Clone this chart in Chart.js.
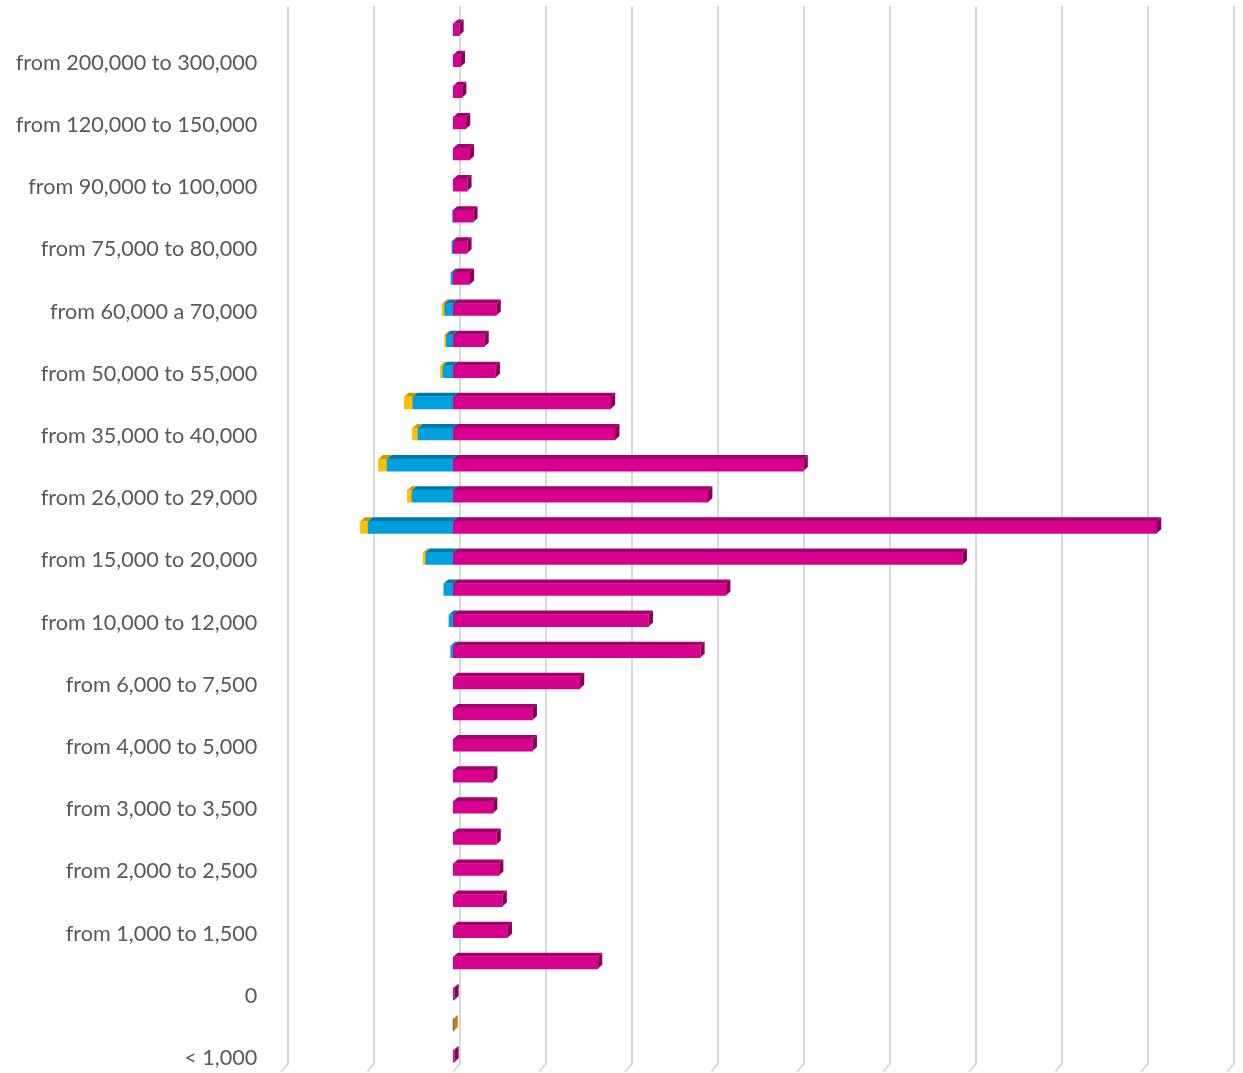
<!DOCTYPE html>
<html>
<head>
<meta charset="utf-8">
<script src="https://cdn.jsdelivr.net/npm/chart.js@4/dist/chart.umd.min.js"></script>
<style>
  html, body { margin: 0; padding: 0; background: #ffffff; }
  #wrap { width: 1243px; height: 1073px; }
</style>
</head>
<body>
<div id="wrap"><canvas id="chart" width="1243" height="1073"></canvas></div>
<script>
// Income classes, from the lowest to the highest
const categories = [
  "< 1,000", "from -1,000 to 0", "0", "from 0 to 1,000",
  "from 1,000 to 1,500", "from 1,500 to 2,000", "from 2,000 to 2,500", "from 2,500 to 3,000",
  "from 3,000 to 3,500", "from 3,500 to 4,000", "from 4,000 to 5,000", "from 5,000 to 6,000",
  "from 6,000 to 7,500", "from 7,500 to 10,000", "from 10,000 to 12,000", "from 12,000 to 15,000",
  "from 15,000 to 20,000", "from 20,000 to 26,000", "from 26,000 to 29,000", "from 29,000 to 35,000",
  "from 35,000 to 40,000", "from 40,000 to 50,000", "from 50,000 to 55,000", "from 55,000 to 60,000",
  "from 60,000 a 70,000", "from 70,000 to 75,000", "from 75,000 to 80,000", "from 80,000 to 90,000",
  "from 90,000 to 100,000", "from 100,000 to 120,000", "from 120,000 to 150,000", "from 150,000 to 200,000",
  "from 200,000 to 300,000", "over 300,000"
];

// Positive component per class
const magentaValues = [
  0.01, 0, 0.01, 1.68,
  0.63, 0.57, 0.53, 0.50,
  0.46, 0.46, 0.92, 0.92,
  1.47, 2.87, 2.27, 3.17,
  5.92, 8.18, 2.96, 4.07,
  1.88, 1.83, 0.49, 0.36,
  0.50, 0.19, 0.16, 0.23,
  0.16, 0.19, 0.145, 0.10,
  0.084, 0.068
];

// First negative component per class
const blueValues = [
  0, 0, 0, 0,
  0, 0, 0, 0,
  0, 0, 0, 0,
  0, -0.03, -0.05, -0.11,
  -0.32, -0.99, -0.48, -0.77,
  -0.41, -0.47, -0.12, -0.08,
  -0.10, -0.027, -0.016, -0.008,
  0, 0, 0, 0,
  0, 0
];

// Second negative component per class
const yellowValues = [
  0, -0.005, 0, 0,
  0, 0, 0, 0,
  0, 0, 0, 0,
  0, 0, 0, 0,
  -0.03, -0.09, -0.055, -0.10,
  -0.065, -0.10, -0.03, -0.02,
  -0.03, 0, 0, 0,
  0, 0, 0, 0,
  0, 0
];

// Value axis range and gridline step
const X_MIN = -2;
const X_MAX = 9;
const X_STEP = 1;

// Faces of each series: front, top, side
const SHADES = [
  { front: '#D6008F', top: '#A3006D', side: '#87005A' },
  { front: '#009FDF', top: '#0077A8', side: '#00628C' },
  { front: '#FFC000', top: '#C99600', side: '#B8870E' }
];

// Extrusion of the bars and of the back wall
const BAR_DX = 4.5, BAR_DY = 4;
const WALL_DX = 6.7, WALL_DY = -8;

const depth3d = {
  id: 'depth3d',
  beforeDatasetsDraw(chart) {
    const { ctx, chartArea, scales } = chart;
    ctx.save();

    // back wall gridlines with their floor segment
    ctx.strokeStyle = '#D9D9D9';
    ctx.lineWidth = 2;
    for (let v = X_MIN; v <= X_MAX + 1e-9; v += X_STEP) {
      const x = scales.x.getPixelForValue(v);
      ctx.beginPath();
      ctx.moveTo(x + WALL_DX, chartArea.top + WALL_DY);
      ctx.lineTo(x + WALL_DX, chartArea.bottom + WALL_DY);
      ctx.lineTo(x, chartArea.bottom);
      ctx.stroke();
    }

    const boxes = [];
    chart.data.datasets.forEach((ds, di) => {
      const meta = chart.getDatasetMeta(di);
      meta.data.forEach((el, i) => {
        if (!ds.data[i]) return;
        const left = Math.min(el.x, el.base);
        const right = Math.max(el.x, el.base);
        const top = el.y - el.height / 2;
        const bottom = el.y + el.height / 2;
        boxes.push({ left, right, top, bottom, shade: SHADES[di] });
      });
    });

    // side faces first, so the neighbouring top and front faces cover them
    boxes.forEach(b => {
      ctx.fillStyle = b.shade.side;
      ctx.beginPath();
      ctx.moveTo(b.right, b.top);
      ctx.lineTo(b.right + BAR_DX, b.top - BAR_DY);
      ctx.lineTo(b.right + BAR_DX, b.bottom - BAR_DY);
      ctx.lineTo(b.right, b.bottom);
      ctx.closePath();
      ctx.fill();
    });
    boxes.forEach(b => {
      ctx.fillStyle = b.shade.top;
      ctx.beginPath();
      ctx.moveTo(b.left, b.top);
      ctx.lineTo(b.left + BAR_DX, b.top - BAR_DY);
      ctx.lineTo(b.right + BAR_DX, b.top - BAR_DY);
      ctx.lineTo(b.right, b.top);
      ctx.closePath();
      ctx.fill();
    });
    ctx.restore();
  }
};

const makeSet = (data, idx) => ({
  data,
  backgroundColor: SHADES[idx].front,
  borderWidth: 0,
  barThickness: 12,
  stack: 'all'
});

new Chart(document.getElementById('chart'), {
  type: 'bar',
  data: {
    labels: categories,
    datasets: [makeSet(magentaValues, 0), makeSet(blueValues, 1), makeSet(yellowValues, 2)]
  },
  options: {
    indexAxis: 'y',
    responsive: false,
    animation: false,
    layout: { padding: { top: 14, bottom: 1.3, left: 0, right: 15.7 } },
    plugins: { legend: { display: false }, tooltip: { enabled: false } },
    scales: {
      x: {
        display: false,
        stacked: true,
        min: X_MIN,
        max: X_MAX
      },
      y: {
        stacked: true,
        reverse: true,
        afterFit(scale) {
          scale.width = 281.3;
          scale.paddingTop = 0;
          scale.paddingBottom = 0;
        },
        grid: { display: false, drawTicks: false },
        border: { display: false },
        ticks: {
          autoSkip: false,
          padding: 24,
          labelOffset: 2,
          color: '#595959',
          font: { family: 'Lato', size: 21.6 },
          callback(value, index) {
            return index % 2 === 0 ? this.getLabelForValue(value) : '';
          }
        }
      }
    }
  },
  plugins: [depth3d]
});
</script>
</body>
</html>
